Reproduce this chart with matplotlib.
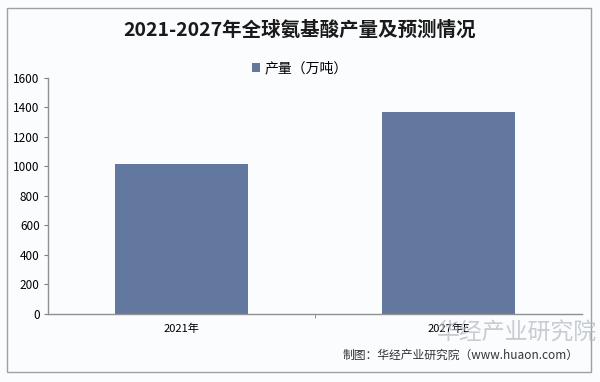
import matplotlib.pyplot as plt
from matplotlib.patches import Rectangle

plt.rcParams['font.family'] = ['Noto Sans CJK SC', 'DejaVu Sans']

# data
categories = ['2021年', '2027年E']
values = [1020, 1372]
series_name = '产量（万吨）'
y_ticks = [0, 200, 400, 600, 800, 1000, 1200, 1400, 1600]

fig = plt.figure(figsize=(6, 3.82), dpi=100)
fig.patch.set_facecolor('#fbfcfd')

# outer frame
fig.patches.append(Rectangle((0.012, 0.025), 0.973, 0.955, transform=fig.transFigure,
                             fill=False, edgecolor='#a0a0a0', linewidth=1.0))

ax = fig.add_axes([0.08, 0.178, 0.89, 0.618])
ax.set_facecolor('none')
x = range(len(categories))
ax.bar(x, values, width=0.5, color='#62789f', label=series_name)

ax.set_xlim(-0.5, 1.5)
ax.set_ylim(0, 1600)
ax.set_yticks(y_ticks)
ax.set_xticks([0.5], minor=True)
ax.set_xticks(list(x))
ax.set_xticklabels(categories, fontsize=8)
ax.tick_params(axis='x', which='major', length=0, pad=7)
ax.tick_params(axis='x', which='minor', length=3, color='#808080')
ax.tick_params(axis='y', labelsize=8.5, length=3, color='#808080', pad=3)
for s in ['top', 'right']:
    ax.spines[s].set_visible(False)
for s in ['left', 'bottom']:
    ax.spines[s].set_color('#909090')
    ax.spines[s].set_linewidth(1.0)

fig.text(0.5, 0.921, '2021-2027年全球氨基酸产量及预测情况', ha='center', va='center',
         fontsize=14, fontweight='bold', color='#1a1a1a')
ax.legend(loc='center', bbox_to_anchor=(0.5, 0.822), bbox_transform=fig.transFigure,
          frameon=False, fontsize=10, handlelength=0.6, handleheight=0.6, handletextpad=0.3)

# watermark
fig.text(0.995, 0.128, '华经产业研究院', ha='right', va='center', fontsize=16.5,
         color='#b0b8c0', alpha=0.7)
fig.text(0.965, 0.071, '制图：华经产业研究院（www.huaon.com）', ha='right', va='center',
         fontsize=8.5, color='#333333')

fig.savefig('out.png', dpi=100, facecolor=fig.get_facecolor())
